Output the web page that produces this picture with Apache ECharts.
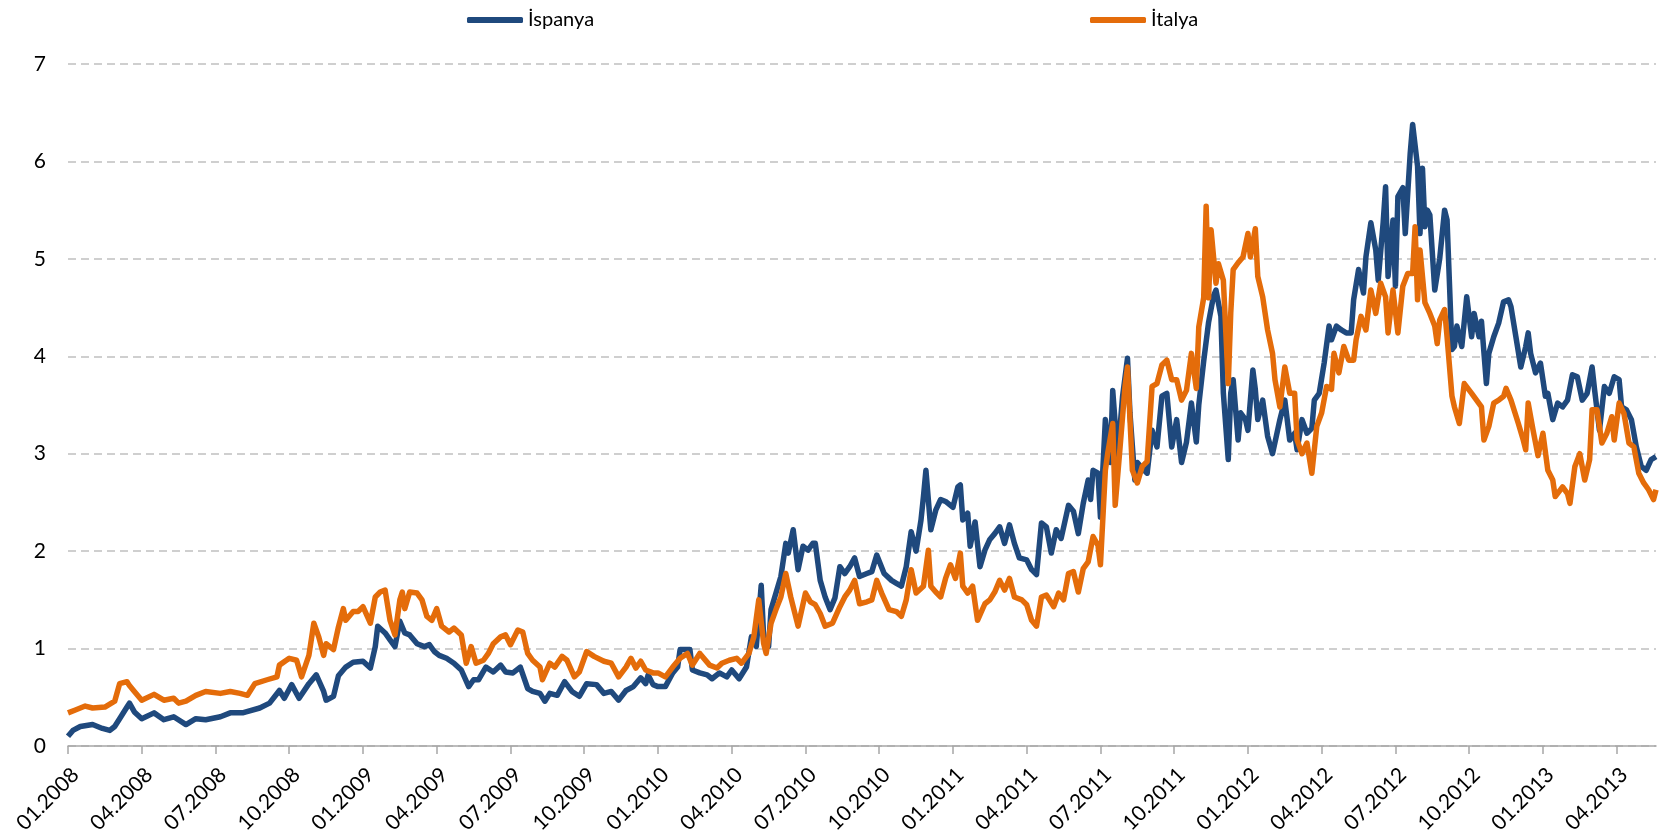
<!DOCTYPE html>
<html>
<head>
<meta charset="utf-8">
<script src="https://cdn.jsdelivr.net/npm/echarts@6/dist/echarts.min.js"></script>
<style>
  html, body { margin: 0; padding: 0; background: #fff; }
  #chart { width: 1671px; height: 838px; }
</style>
</head>
<body>
<div id="chart"></div>
<script>
// x = months since 01.2008
const tickLabels = ['01.2008', '04.2008', '07.2008', '10.2008', '01.2009', '04.2009', '07.2009', '10.2009',
  '01.2010', '04.2010', '07.2010', '10.2010', '01.2011', '04.2011', '07.2011', '10.2011',
  '01.2012', '04.2012', '07.2012', '10.2012', '01.2013', '04.2013']

const spainMonths = [0, 0.2, 0.5, 1, 1.4, 1.7, 1.9, 2.1, 2.4, 2.5, 2.7, 3, 3.5, 3.9, 4.3, 4.8, 5.2, 5.6, 6.2, 6.6,
  7.1, 7.8, 8.2, 8.6, 8.8, 9.1, 9.4, 9.8, 10.1, 10.4, 10.5, 10.8, 11, 11.3, 11.6, 12, 12.3, 12.5, 12.6, 12.9,
  13.1, 13.3, 13.5, 13.7, 13.9, 14.2, 14.5, 14.7, 14.9, 15.1, 15.4, 15.7, 16, 16.3, 16.5, 16.7, 17, 17.3, 17.6, 17.8,
  18.1, 18.4, 18.7, 18.9, 19.2, 19.4, 19.6, 19.9, 20.2, 20.5, 20.8, 21.1, 21.5, 21.8, 22.1, 22.4, 22.7, 23, 23.3, 23.5,
  23.6, 23.8, 24, 24.3, 24.6, 24.8, 24.9, 25.3, 25.4, 25.7, 26, 26.2, 26.5, 26.8, 27, 27.3, 27.6, 27.8, 28, 28.2,
  28.3, 28.5, 28.6, 28.8, 29, 29.2, 29.3, 29.5, 29.7, 29.9, 30.1, 30.3, 30.4, 30.6, 30.8, 31, 31.2, 31.4, 31.6, 31.8,
  32, 32.2, 32.5, 32.7, 32.9, 33.2, 33.5, 33.7, 33.9, 34.1, 34.3, 34.5, 34.7, 34.8, 34.9, 35.1, 35.3, 35.5, 35.7, 35.9,
  36, 36.2, 36.3, 36.4, 36.6, 36.7, 36.9, 37.1, 37.3, 37.5, 37.7, 37.9, 38.1, 38.3, 38.5, 38.7, 39, 39.2, 39.4, 39.6,
  39.8, 40, 40.2, 40.4, 40.7, 40.9, 41.1, 41.3, 41.5, 41.6, 41.7, 41.9, 42, 42.2, 42.4, 42.5, 42.7, 42.9, 43.1, 43.2,
  43.4, 43.5, 43.7, 43.9, 44.1, 44.3, 44.5, 44.7, 44.9, 45.1, 45.3, 45.5, 45.7, 45.9, 46, 46.2, 46.4, 46.6, 46.7, 46.9,
  47, 47.2, 47.3, 47.4, 47.6, 47.7, 47.9, 48, 48.2, 48.3, 48.4, 48.6, 48.8, 49, 49.3, 49.5, 49.7, 49.9, 50, 50.2,
  50.4, 50.6, 50.7, 50.9, 51.1, 51.3, 51.4, 51.6, 51.8, 52, 52.2, 52.3, 52.5, 52.7, 52.8, 53, 53.2, 53.3, 53.5, 53.6,
  53.7, 53.9, 54, 54.1, 54.3, 54.4, 54.6, 54.7, 54.9, 55, 55.1, 55.2, 55.3, 55.4, 55.6, 55.8, 56, 56.1, 56.3, 56.4,
  56.5, 56.7, 56.9, 57.1, 57.2, 57.4, 57.5, 57.7, 57.8, 58, 58.2, 58.4, 58.6, 58.7, 58.9, 59.1, 59.3, 59.4, 59.5, 59.7,
  59.9, 60.1, 60.2, 60.4, 60.6, 60.8, 61, 61.2, 61.4, 61.6, 61.8, 62, 62.1, 62.3, 62.5, 62.7, 62.9, 63.1, 63.2, 63.4,
  63.6, 63.8, 64, 64.2, 64.4, 64.6]
const spainValues = [0.10, 0.16, 0.20, 0.22, 0.18, 0.16, 0.20, 0.28, 0.40, 0.44, 0.35, 0.28, 0.34, 0.27, 0.30, 0.22, 0.28, 0.27, 0.30, 0.34,
  0.34, 0.39, 0.44, 0.57, 0.49, 0.63, 0.49, 0.64, 0.73, 0.56, 0.47, 0.51, 0.72, 0.81, 0.86, 0.87, 0.80, 1.02, 1.23, 1.16,
  1.09, 1.02, 1.28, 1.16, 1.14, 1.05, 1.02, 1.04, 0.97, 0.93, 0.90, 0.85, 0.78, 0.61, 0.68, 0.68, 0.81, 0.76, 0.83, 0.76,
  0.75, 0.81, 0.59, 0.56, 0.54, 0.46, 0.54, 0.52, 0.66, 0.56, 0.51, 0.64, 0.63, 0.54, 0.56, 0.47, 0.57, 0.61, 0.70, 0.64,
  0.73, 0.63, 0.61, 0.61, 0.75, 0.81, 0.99, 0.99, 0.78, 0.75, 0.73, 0.69, 0.75, 0.71, 0.78, 0.69, 0.81, 1.12, 1.02, 1.65,
  1.12, 1.02, 1.40, 1.57, 1.74, 2.08, 1.98, 2.22, 1.81, 2.05, 2.01, 2.08, 2.08, 1.70, 1.53, 1.40, 1.52, 1.84, 1.77, 1.84,
  1.93, 1.74, 1.77, 1.79, 1.96, 1.77, 1.70, 1.67, 1.64, 1.84, 2.20, 2.00, 2.32, 2.56, 2.83, 2.22, 2.42, 2.53, 2.51, 2.47,
  2.45, 2.66, 2.68, 2.32, 2.39, 2.05, 2.30, 1.84, 2.01, 2.12, 2.18, 2.25, 2.08, 2.27, 2.08, 1.93, 1.91, 1.81, 1.76, 2.29,
  2.25, 1.98, 2.22, 2.13, 2.47, 2.41, 2.18, 2.49, 2.73, 2.53, 2.83, 2.80, 2.35, 3.35, 2.91, 3.65, 2.97, 3.59, 3.98, 3.42,
  2.73, 2.91, 2.85, 2.80, 3.24, 3.07, 3.59, 3.62, 3.07, 3.35, 2.91, 3.12, 3.52, 3.12, 3.50, 3.95, 4.35, 4.62, 4.68, 4.41,
  3.62, 2.94, 3.62, 3.76, 3.14, 3.42, 3.35, 3.24, 3.86, 3.66, 3.35, 3.55, 3.18, 3.00, 3.35, 3.55, 3.14, 3.21, 3.04, 3.35,
  3.21, 3.26, 3.55, 3.62, 3.93, 4.31, 4.17, 4.31, 4.27, 4.24, 4.24, 4.58, 4.89, 4.65, 5.02, 5.37, 5.09, 4.78, 5.37, 5.74,
  4.82, 5.40, 4.72, 5.64, 5.73, 5.26, 6.08, 6.38, 5.95, 5.26, 5.93, 5.33, 5.50, 5.45, 4.68, 5.00, 5.50, 5.40, 4.07, 4.10,
  4.31, 4.10, 4.61, 4.20, 4.44, 4.20, 4.36, 3.72, 4.03, 4.20, 4.34, 4.56, 4.58, 4.51, 4.20, 3.89, 4.10, 4.24, 4.03, 3.83,
  3.93, 3.59, 3.62, 3.35, 3.52, 3.48, 3.55, 3.81, 3.79, 3.55, 3.62, 3.89, 3.66, 3.24, 3.69, 3.62, 3.79, 3.76, 3.48, 3.45,
  3.35, 3.07, 2.87, 2.83, 2.94, 2.97]

const italyMonths = [0, 0.3, 0.7, 1, 1.5, 1.9, 2.1, 2.4, 2.5, 2.7, 3, 3.5, 3.9, 4.3, 4.5, 4.8, 5.2, 5.6, 6.2, 6.6,
  7, 7.3, 7.6, 8.1, 8.5, 8.6, 9, 9.3, 9.5, 9.8, 10, 10.2, 10.4, 10.5, 10.8, 11, 11.2, 11.3, 11.6, 11.8,
  12, 12.3, 12.5, 12.7, 12.9, 13.1, 13.3, 13.5, 13.6, 13.7, 13.9, 14.2, 14.4, 14.6, 14.8, 15, 15.2, 15.5, 15.7, 16,
  16.2, 16.4, 16.6, 16.9, 17.1, 17.3, 17.6, 17.8, 18, 18.3, 18.5, 18.7, 18.9, 19.2, 19.3, 19.6, 19.8, 20.1, 20.3, 20.6,
  20.8, 21.1, 21.4, 21.8, 22.1, 22.4, 22.7, 22.9, 23.1, 23.3, 23.5, 23.8, 24, 24.3, 24.6, 24.9, 25.2, 25.4, 25.7, 26.1,
  26.4, 26.6, 26.9, 27.2, 27.4, 27.7, 27.9, 28.1, 28.3, 28.4, 28.6, 28.8, 29, 29.2, 29.4, 29.7, 30, 30.2, 30.4, 30.6,
  30.8, 31.1, 31.4, 31.6, 31.8, 32, 32.2, 32.5, 32.7, 32.9, 33.1, 33.4, 33.7, 33.9, 34.1, 34.3, 34.5, 34.8, 35, 35.1,
  35.3, 35.5, 35.7, 35.9, 36.1, 36.3, 36.4, 36.6, 36.8, 37, 37.3, 37.5, 37.7, 37.9, 38.1, 38.3, 38.5, 38.8, 39, 39.2,
  39.4, 39.6, 39.8, 40.1, 40.3, 40.5, 40.7, 40.9, 41.1, 41.3, 41.5, 41.7, 41.9, 42, 42.2, 42.3, 42.5, 42.6, 42.8, 43,
  43.1, 43.3, 43.5, 43.7, 43.9, 44.1, 44.3, 44.5, 44.7, 44.9, 45.1, 45.3, 45.5, 45.7, 45.9, 46, 46.2, 46.3, 46.4, 46.5,
  46.7, 46.8, 47, 47.2, 47.3, 47.4, 47.6, 47.8, 48, 48.1, 48.3, 48.4, 48.6, 48.8, 49, 49.1, 49.3, 49.5, 49.7, 49.9,
  50, 50.2, 50.4, 50.6, 50.8, 51, 51.2, 51.4, 51.5, 51.7, 51.9, 52.1, 52.3, 52.4, 52.6, 52.8, 53, 53.2, 53.4, 53.6,
  53.7, 53.9, 54.1, 54.3, 54.5, 54.7, 54.8, 54.9, 55, 55.2, 55.4, 55.6, 55.7, 55.8, 56, 56.1, 56.3, 56.4, 56.6, 56.8,
  57.1, 57.3, 57.5, 57.6, 57.8, 58, 58.2, 58.4, 58.5, 58.7, 59, 59.2, 59.3, 59.4, 59.6, 59.8, 60, 60.2, 60.4, 60.5,
  60.8, 61, 61.1, 61.3, 61.5, 61.7, 61.9, 62, 62.2, 62.4, 62.6, 62.8, 62.9, 63.1, 63.3, 63.5, 63.7, 63.9, 64.1, 64.3,
  64.5, 64.6]
const italyValues = [0.34, 0.37, 0.41, 0.39, 0.40, 0.46, 0.64, 0.66, 0.62, 0.56, 0.47, 0.53, 0.47, 0.49, 0.44, 0.46, 0.52, 0.56, 0.54, 0.56,
  0.54, 0.52, 0.64, 0.68, 0.71, 0.83, 0.90, 0.88, 0.71, 0.93, 1.26, 1.12, 0.93, 1.05, 0.99, 1.22, 1.41, 1.29, 1.38, 1.38,
  1.43, 1.26, 1.53, 1.58, 1.60, 1.29, 1.14, 1.50, 1.58, 1.41, 1.58, 1.57, 1.50, 1.33, 1.29, 1.41, 1.23, 1.17, 1.21, 1.14,
  0.85, 1.02, 0.85, 0.88, 0.95, 1.05, 1.12, 1.14, 1.04, 1.19, 1.17, 0.95, 0.88, 0.81, 0.68, 0.85, 0.81, 0.92, 0.88, 0.71,
  0.76, 0.97, 0.92, 0.87, 0.85, 0.71, 0.81, 0.90, 0.80, 0.87, 0.78, 0.75, 0.75, 0.71, 0.81, 0.90, 0.95, 0.83, 0.95, 0.83,
  0.80, 0.85, 0.88, 0.90, 0.85, 0.95, 1.12, 1.50, 1.05, 0.95, 1.26, 1.40, 1.53, 1.77, 1.53, 1.23, 1.57, 1.48, 1.45, 1.36,
  1.23, 1.26, 1.43, 1.53, 1.60, 1.70, 1.46, 1.48, 1.50, 1.70, 1.57, 1.40, 1.38, 1.33, 1.50, 1.81, 1.57, 1.64, 2.01, 1.64,
  1.58, 1.53, 1.72, 1.86, 1.72, 1.98, 1.64, 1.57, 1.64, 1.29, 1.46, 1.50, 1.58, 1.70, 1.60, 1.72, 1.53, 1.50, 1.45, 1.29,
  1.23, 1.53, 1.55, 1.43, 1.57, 1.50, 1.77, 1.79, 1.58, 1.82, 1.89, 2.15, 2.06, 1.86, 2.83, 3.01, 3.31, 2.47, 3.07, 3.69,
  3.89, 2.83, 2.70, 2.87, 2.92, 3.69, 3.72, 3.91, 3.96, 3.76, 3.76, 3.55, 3.65, 4.03, 3.67, 4.30, 4.60, 5.54, 4.60, 5.30,
  4.75, 4.95, 4.78, 3.72, 4.44, 4.89, 4.96, 5.02, 5.26, 5.02, 5.31, 4.82, 4.61, 4.27, 4.03, 3.76, 3.48, 3.89, 3.62, 3.62,
  3.14, 3.00, 3.11, 2.80, 3.28, 3.42, 3.69, 3.66, 4.03, 3.83, 4.10, 3.96, 3.96, 4.17, 4.41, 4.27, 4.68, 4.44, 4.75, 4.61,
  4.24, 4.68, 4.24, 4.72, 4.85, 4.85, 5.33, 4.58, 5.09, 4.55, 4.44, 4.31, 4.13, 4.37, 4.48, 4.20, 3.59, 3.48, 3.31, 3.72,
  3.62, 3.55, 3.48, 3.14, 3.28, 3.52, 3.55, 3.59, 3.67, 3.55, 3.31, 3.14, 3.04, 3.52, 3.24, 2.98, 3.21, 2.83, 2.73, 2.56,
  2.66, 2.59, 2.49, 2.87, 3.00, 2.73, 2.94, 3.45, 3.45, 3.11, 3.21, 3.38, 3.14, 3.52, 3.41, 3.11, 3.07, 2.80, 2.70, 2.63,
  2.53, 2.63]

const lastMonth = 64.6
const tickMonths = tickLabels.map((_, i) => i * 3)

const chart = echarts.init(document.getElementById('chart'))
const font = 'Lato, "Liberation Sans", sans-serif'

const legendBase = {
  top: 5,
  icon: 'roundRect',
  itemWidth: 56,
  itemHeight: 6,
  itemGap: 0,
  textStyle: { fontFamily: font, fontSize: 20, color: '#000' }
}

chart.setOption({
  animation: false,
  legend: [
    { ...legendBase, left: 462, data: ['İspanya'] },
    { ...legendBase, left: 1085, data: ['İtalya'] }
  ],
  grid: { left: 68, right: 15, top: 64, bottom: 92 },
  xAxis: {
    type: 'value',
    min: 0,
    max: lastMonth,
    axisLine: { lineStyle: { color: '#a6a6a6', width: 1.5 } },
    axisTick: { show: true, length: 8, customValues: tickMonths, lineStyle: { color: '#a6a6a6', width: 1.5 } },
    axisLabel: {
      customValues: tickMonths,
      rotate: 45,
      margin: 18,
      align: 'right',
      verticalAlign: 'top',
      fontFamily: font,
      fontSize: 21,
      color: '#000',
      formatter: v => tickLabels[Math.round(v / 3)] || ''
    },
    splitLine: { show: false }
  },
  yAxis: {
    type: 'value',
    min: 0,
    max: 7,
    interval: 1,
    axisLine: { show: false },
    axisTick: { show: false },
    axisLabel: { fontFamily: font, fontSize: 21, color: '#000', margin: 22 },
    splitLine: { lineStyle: { color: '#c0c0c0', width: 1.5, type: [8, 5] } }
  },
  series: [
    {
      name: 'İspanya',
      type: 'line',
      showSymbol: false,
      color: '#1f497d',
      lineStyle: { width: 5.5, color: '#1f497d', join: 'round' },
      data: spainMonths.map((m, i) => [m, spainValues[i]])
    },
    {
      name: 'İtalya',
      type: 'line',
      showSymbol: false,
      color: '#e46c0a',
      lineStyle: { width: 5.5, color: '#e46c0a', join: 'round' },
      data: italyMonths.map((m, i) => [m, italyValues[i]])
    }
  ]
})
</script>
</body>
</html>
